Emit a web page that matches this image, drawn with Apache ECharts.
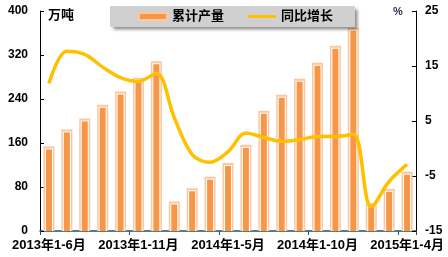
<!DOCTYPE html>
<html><head><meta charset="utf-8">
<script src="https://cdn.jsdelivr.net/npm/echarts@6/dist/echarts.min.js"></script>
<style>html,body{margin:0;padding:0;background:#fff}#c{width:448px;height:257px}</style>
</head><body><div id="c"></div>
<script>
var categories = ['2013年1-6月','2013年1-7月','2013年1-8月','2013年1-9月','2013年1-10月','2013年1-11月','2013年1-12月',
  '2014年1-2月','2014年1-3月','2014年1-4月','2014年1-5月','2014年1-6月','2014年1-7月','2014年1-8月','2014年1-9月','2014年1-10月','2014年1-11月','2014年1-12月',
  '2015年1-2月','2015年1-3月','2015年1-4月'];
var output = [151,182,202,227,251,276,306,51,75,96,121,154,216,245,274,303,334,367,48,74,105];
var growth = [11.8,17.7,17.1,14.8,12.9,12.2,13.7,5.6,-1.1,-2.5,-0.6,2.8,2.0,1.3,1.6,2.2,2.2,2.6,-10.6,-6.0,-2.9];
var leftTicks = {min:0,max:400,interval:80};
var rightTicks = {min:-15,max:25,interval:10};

var FONT = '"Liberation Sans","Noto Sans CJK SC",Arial,sans-serif';
var barData = output.map(function(v,i){ return [i, v]; });

function renderBar(params, api){
  var top = api.coord([api.value(0), api.value(1)]);
  var base = api.coord([api.value(0), 0]);
  var x = top[0], y = top[1], b = base[1];
  return {type:'group', children:[
    {type:'rect', shape:{x:x-5.5, y:y-1.5, width:11, height:b-y+1.5}, style:{fill:'#fbc79f'}},
    {type:'rect', shape:{x:x-4, y:y+0.5, width:8, height:b-y-0.5}, style:{fill:'#ffffff'}},
    {type:'rect', shape:{x:x-3, y:y+1.5, width:6, height:b-y-1.5}, style:{fill:'#f79646'}}
  ]};
}

var chart = echarts.init(document.getElementById('c'));
chart.setOption({
  animation:false,
  textStyle:{fontFamily:FONT},
  grid:{left:40,right:32,top:11,bottom:26},
  legend:{
    left:110, top:6,
    padding:[4,22,4,28],
    itemGap:24, itemWidth:28, itemHeight:7,
    backgroundColor:'#d0d0d0',
    shadowColor:'rgba(0,0,0,0.45)', shadowBlur:3, shadowOffsetX:3, shadowOffsetY:3,
    textStyle:{fontFamily:FONT,fontWeight:'bold',fontSize:13,color:'#000'},
    data:[
      {name:'累计产量', icon:'rect', itemStyle:{color:'#f79646',borderColor:'#fbc79f',borderWidth:2}},
      {name:'同比增长', icon:'path://M0 0H28V3H0Z', itemStyle:{color:'#ffc000',borderWidth:0}}
    ]
  },
  graphic:[
    {type:'text',left:48,top:9,style:{text:'万吨',font:'bold 13px '+FONT,fill:'#000'}},
    {type:'text',left:393,top:6,style:{text:'%',font:'bold 11px '+FONT,fill:'#1f2a44'}}
  ],
  xAxis:{type:'category',data:categories,
     axisLine:{lineStyle:{color:'#23505f',width:1.5}},
     axisTick:{show:true,length:4,lineStyle:{color:'#23505f'}},
     axisLabel:{interval:4,margin:8,fontSize:13,fontWeight:'bold',color:'#000',fontFamily:FONT}},
  yAxis:[
    {type:'value',min:leftTicks.min,max:leftTicks.max,interval:leftTicks.interval,
     splitLine:{show:false},
     axisLine:{show:true,lineStyle:{color:'#000'}},
     axisTick:{show:true,inside:true,length:4,lineStyle:{color:'#000'}},
     axisLabel:{margin:12,fontSize:12,fontWeight:'bold',color:'#000',fontFamily:FONT}},
    {type:'value',min:rightTicks.min,max:rightTicks.max,interval:rightTicks.interval,position:'right',
     splitLine:{show:false},
     axisLine:{show:true,lineStyle:{color:'#000'}},
     axisTick:{show:true,inside:true,length:4,lineStyle:{color:'#000'}},
     axisLabel:{margin:9,fontSize:12,fontWeight:'bold',color:'#000',fontFamily:FONT}}
  ],
  series:[
    {name:'累计产量',type:'custom',yAxisIndex:0,data:barData,renderItem:renderBar,
     encode:{x:0,y:1},itemStyle:{color:'#f79646'},z:2},
    {name:'同比增长',type:'line',yAxisIndex:1,data:growth,smooth:0.35,
     showSymbol:false,symbol:'none',
     lineStyle:{color:'#ffc000',width:3.5},itemStyle:{color:'#ffc000'},z:3}
  ]
});
</script></body></html>
